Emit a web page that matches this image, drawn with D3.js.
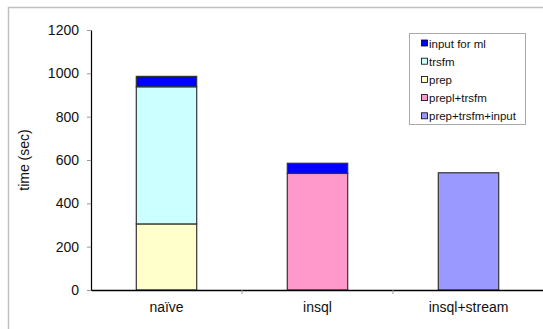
<!DOCTYPE html>
<html><head><meta charset="utf-8">
<script src="https://cdn.jsdelivr.net/npm/d3@7"></script>
<style>body{margin:0;background:#fff}svg{display:block;font-family:"Liberation Sans",Arial,sans-serif}</style>
</head><body>
<svg id="c" width="543" height="329"></svg>
<script>
const categories = ["naïve", "insql", "insql+stream"];
const seriesNames = ["prep", "trsfm", "prepl+trsfm", "prep+trsfm+input", "input for ml"];
const prep = [305, 0, 0];
const trsfm = [633, 0, 0];
const preplTrsfm = [0, 538, 0];
const prepTrsfmInput = [0, 0, 541];
const inputForMl = [48, 47, 0];
const legendOrder = ["input for ml", "trsfm", "prep", "prepl+trsfm", "prep+trsfm+input"];
const yTicks = [0, 200, 400, 600, 800, 1000, 1200];
const colors = {"prep":"#FFFFCC","trsfm":"#CCFFFF","prepl+trsfm":"#FF99CC","prep+trsfm+input":"#9999FF","input for ml":"#0000FF"};

const seriesValues = {"prep":prep,"trsfm":trsfm,"prepl+trsfm":preplTrsfm,"prep+trsfm+input":prepTrsfmInput,"input for ml":inputForMl};
const table = categories.map((c,i)=>{const r={cat:c}; seriesNames.forEach(s=>r[s]=seriesValues[s][i]); return r;});
const stacked = d3.stack().keys(seriesNames)(table);

const svg = d3.select("#c");
const L=91, R=544, T=30, B=290;
const x = d3.scaleBand().domain(categories).range([L,R]).paddingInner(0.6).paddingOuter(0.3);
const y = d3.scaleLinear().domain([0,1200]).range([B,T]);

// outer frame
svg.append("path").attr("d",`M8.5,340 V7.5 H560`).attr("fill","none").attr("stroke","#c0c0c0").attr("stroke-width",1.5);

// bars
stacked.forEach(layer=>{
  svg.append("g").selectAll("rect").data(layer.filter(d=>d[1]-d[0]>0)).join("rect")
    .attr("x",d=>x(d.data.cat)).attr("width",x.bandwidth())
    .attr("y",d=>y(d[1])).attr("height",d=>y(d[0])-y(d[1]))
    .attr("fill",colors[layer.key]).attr("stroke","#333").attr("stroke-width",1.2);
});

// y axis
const ya = svg.append("g").attr("transform",`translate(${L},0)`)
  .call(d3.axisLeft(y).tickValues(yTicks).tickFormat(d3.format("d")).tickSize(4).tickPadding(8).tickSizeOuter(0));
ya.select(".domain").attr("stroke","#000").attr("stroke-width",1.2);
ya.selectAll(".tick line").attr("stroke","#999");
ya.selectAll(".tick text").attr("font-size",14).attr("fill","#111").attr("font-family","Liberation Sans, Arial, sans-serif");

// x axis
const xa = svg.append("g").attr("transform",`translate(0,${B})`)
  .call(d3.axisBottom(x).tickSize(0).tickPadding(12.5).tickSizeOuter(0));
xa.select(".domain").attr("stroke","#000").attr("stroke-width",1.5);
xa.selectAll(".tick text").attr("font-size",14).attr("fill","#111").attr("font-family","Liberation Sans, Arial, sans-serif");
const step = x.step();
svg.append("g").selectAll("line").data(categories.slice(1)).join("line")
  .attr("x1",d=>x(d)-step*0.3).attr("x2",d=>x(d)-step*0.3)
  .attr("y1",B).attr("y2",B+4).attr("stroke","#999");

// y title
svg.append("text").attr("transform","translate(29,160) rotate(-90)")
  .attr("text-anchor","middle").attr("font-size",14).attr("fill","#111").text("time (sec)");

// legend
const lg = svg.append("g");
lg.append("rect").attr("x",409.5).attr("y",33.5).attr("width",116).attr("height",91)
  .attr("fill","#fff").attr("stroke","#aaa");
legendOrder.forEach((s,i)=>{
  const cy = 43.5 + i*18.2;
  lg.append("rect").attr("x",421.5).attr("y",cy-3.5).attr("width",6).attr("height",6)
    .attr("fill",colors[s]).attr("stroke","#000").attr("stroke-width",0.8);
  lg.append("text").attr("x",429).attr("y",cy+4).attr("font-size",11.5).attr("fill","#111").text(s);
});
</script>
</body></html>
